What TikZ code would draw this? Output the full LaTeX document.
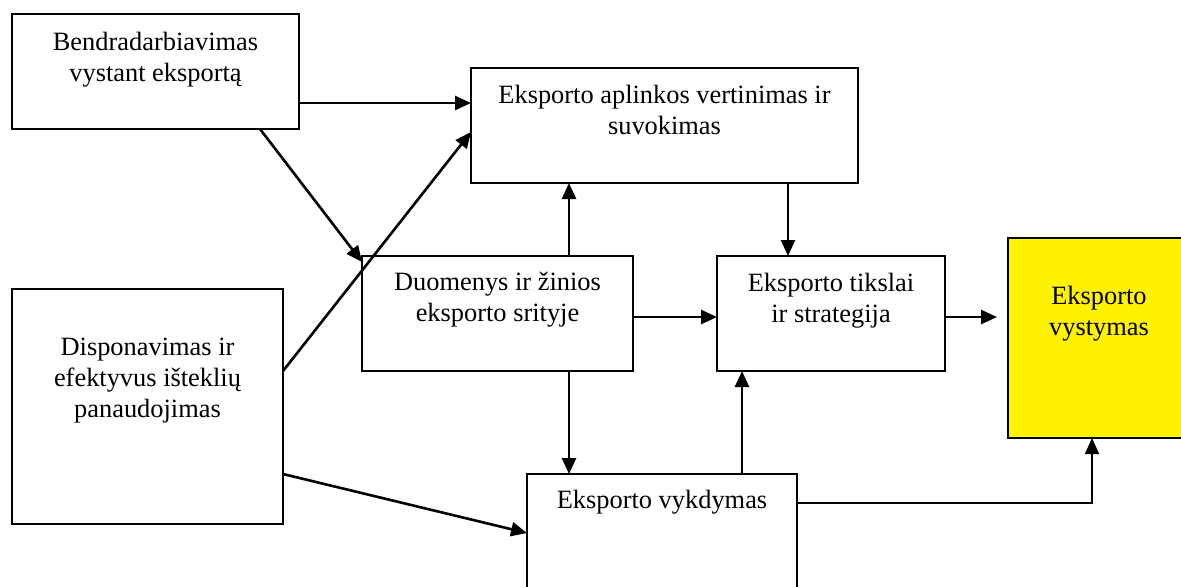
\documentclass[tikz,border=0pt]{standalone}
\usepackage{fontspec}
\setmainfont{Liberation Serif}
\usetikzlibrary{arrows.meta,fit}
\begin{document}
\begin{tikzpicture}[x=0.5pt,y=-0.5pt,
  box/.style={draw=black, line width=1.1pt, rectangle, inner sep=0pt, outer sep=0pt},
  lbl/.style={anchor=north, inner sep=0pt, outer sep=0pt, align=center,
              font=\fontsize{13.2pt}{15.5pt}\selectfont},
  arr/.style={line width=1.3pt, -{Triangle[length=8pt,width=7pt]}},
  thin arr/.style={line width=0.8pt, -{Triangle[length=8pt,width=7pt]}}
]
\path[use as bounding box] (0,0) rectangle (1181,586);
\clip (0,0) rectangle (1181,586);

% boxes
\node[box, fit={(12,14) (299,129)}] (coop) {};
\node[box, fit={(471,68) (858,183)}] (env) {};
\node[box, fit={(12,289) (283,524)}] (res) {};
\node[box, fit={(362,256) (633,371)}] (data) {};
\node[box, fit={(717,256) (945,371)}] (goal) {};
\node[box, fill=yellow, fit={(1008,238) (1190,438)}] (dev) {};
\node[box, fit={(527,474) (797,600)}] (exec) {};

% box texts
\node[lbl] (tcoop) at (155.5,28.3) {\strut Bendradarbiavimas\\vystant eksportą};
\node[lbl] (tenv)  at (664.5,81.3) {\strut Eksporto aplinkos vertinimas ir\\suvokimas};
\node[lbl] (tdata) at (497.5,269)  {\strut Duomenys ir žinios\\eksporto srityje};
\node[lbl] (tgoal) at (831,270)    {\strut Eksporto tikslai\\ir strategija};
\node[lbl] (tdev)  at (1099,282.3) {\strut Eksporto\\vystymas};
\node[lbl] (tres)  at (147.5,333.3) {\strut Disponavimas ir\\efektyvus išteklių\\panaudojimas};
\node[lbl] (texec) at (662,486.3)  {\strut Eksporto vykdymas};

% connectors
\draw[arr] (coop.east |- 0,103) -- (env.west |- 0,103);
\draw[arr] (coop.south -| 260,0) -- (data.west |- 0,262);
\draw[arr] (res.east |- 0,371) -- (env.west |- 0,132);
\draw[arr] (res.east |- 0,474) -- (exec.west |- 0,533);
\draw[arr] (data.north -| 569,0) -- (env.south -| 569,0);
\draw[arr] (env.south -| 788,0) -- (goal.north -| 788,0);
\draw[arr] (data.east |- 0,317) -- (goal.west |- 0,317);
\draw[arr] (data.south -| 569,0) -- (exec.north -| 569,0);
\draw[arr] (exec.north -| 742,0) -- (goal.south -| 742,0);
\draw[arr, shorten >=5.5pt] (goal.east |- 0,317) -- (dev.west |- 0,317);
\draw[thin arr] (exec.east |- 0,503) -| (dev.south -| 1092,0);
\end{tikzpicture}
\end{document}
